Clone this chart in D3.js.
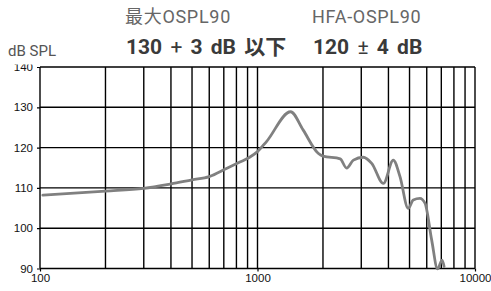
<!DOCTYPE html>
<html><head><meta charset="utf-8">
<script src="https://cdn.jsdelivr.net/npm/d3@7"></script>
<style>body{margin:0;background:#fff}svg{display:block}</style>
</head><body>
<svg id="c" width="491" height="291"></svg>
<script>
const freqs = [103,200,300,400,500,600,720,830,920,1000,1100,1420,1620,1900,2000,2400,2570,2760,3060,3350,3790,4210,4520,4930,5200,5580,5890,6320,6730,7060,7210];
const levels = [108.2,109.2,109.9,111,112,112.8,114.8,116.4,117.6,119,121.5,128.9,124.4,118.6,117.9,117.2,114.9,116.9,117.6,116.1,111.1,116.9,112.8,104.9,107,107.4,106.2,97.1,89.9,92.1,90.5];
const yTicks = [90,100,110,120,130,140];
const xTickLabels = [100,1000,10000];
const xGrid = [100,200,300,400,500,600,700,800,900,1000,2000,3000,4000,5000,6000,7000,8000,9000,10000];
const headers = [["最大OSPL90","130 + 3 dB 以下"],["HFA-OSPL90","120 ± 4 dB"]];

const svg = d3.select("#c");
const L=40,R=475,T=67,B=268.5;
const x = d3.scaleLog().domain([100,10000]).range([L,R]);
const y = d3.scaleLinear().domain([90,140]).range([B,T]);

svg.append("defs").append("clipPath").attr("id","tc").append("rect").attr("x",-60).attr("y",64.5).attr("width",600).attr("height",230);

// grid
const g = svg.append("g");
g.selectAll("line.v").data(xGrid).join("line").attr("x1",d=>x(d)).attr("x2",d=>x(d)).attr("y1",T).attr("y2",B).attr("stroke","#000").attr("stroke-width",1.4);
g.selectAll("line.h").data(yTicks).join("line").attr("x1",L).attr("x2",R).attr("y1",d=>y(d)).attr("y2",d=>y(d)).attr("stroke","#000").attr("stroke-width",1.4);

// axes
const ya = svg.append("g").attr("transform",`translate(${L},0)`).attr("clip-path","url(#tc)")
  .call(d3.axisLeft(y).tickValues(yTicks).tickSize(3).tickPadding(4).tickFormat(d3.format("d")));
ya.select(".domain").remove();
ya.selectAll("line").attr("stroke","#000").attr("stroke-width",1.2);
ya.selectAll("text").attr("font-family","'Liberation Sans',Arial,sans-serif").attr("font-size",11.5).attr("fill","#111");

const xa = svg.append("g").attr("transform",`translate(0,${B})`)
  .call(d3.axisBottom(x).tickValues(xTickLabels).tickSize(3).tickPadding(2).tickFormat(d3.format("d")));
xa.select(".domain").remove();
xa.selectAll("line").attr("stroke","#000").attr("stroke-width",1.2);
xa.selectAll("text").attr("font-family","'Liberation Sans',Arial,sans-serif").attr("font-size",11.5).attr("fill","#111");

// curve
const data = freqs.map((f,i)=>({f,v:levels[i]}));
svg.append("path").datum(data)
  .attr("d", d3.line().x(d=>x(d.f)).y(d=>y(d.v)).curve(d3.curveMonotoneX))
  .attr("fill","none").attr("stroke","#808080").attr("stroke-width",2.8).attr("stroke-linejoin","round").attr("stroke-linecap","round");

// texts
svg.append("text").attr("x",8).attr("y",56).text("dB SPL")
  .attr("font-family","Roboto,'Noto Sans',sans-serif").attr("font-size",15).attr("fill","#555");
const hx = [125,312];
headers.forEach((h,i)=>{
  svg.append("text").attr("x",hx[i]).attr("y",23).text(h[0])
    .attr("font-family","Roboto,'Noto Sans CJK JP',sans-serif").attr("font-size",18).attr("letter-spacing",0.7).attr("fill","#666");
  const t = svg.append("text").attr("x",hx[i]+1).attr("y",53.5).attr("xml:space","preserve")
    .attr("font-family","Roboto,'Noto Sans CJK JP',sans-serif").attr("font-weight","bold").attr("font-size",21).attr("word-spacing",3).attr("fill","#3a3a3a");
  h[1].split(/([+±])/).forEach(part=>{
    const s = t.append("tspan").text(part);
    if (part==="+"||part==="±") s.attr("font-weight","normal");
  });
});
</script>
</body></html>
